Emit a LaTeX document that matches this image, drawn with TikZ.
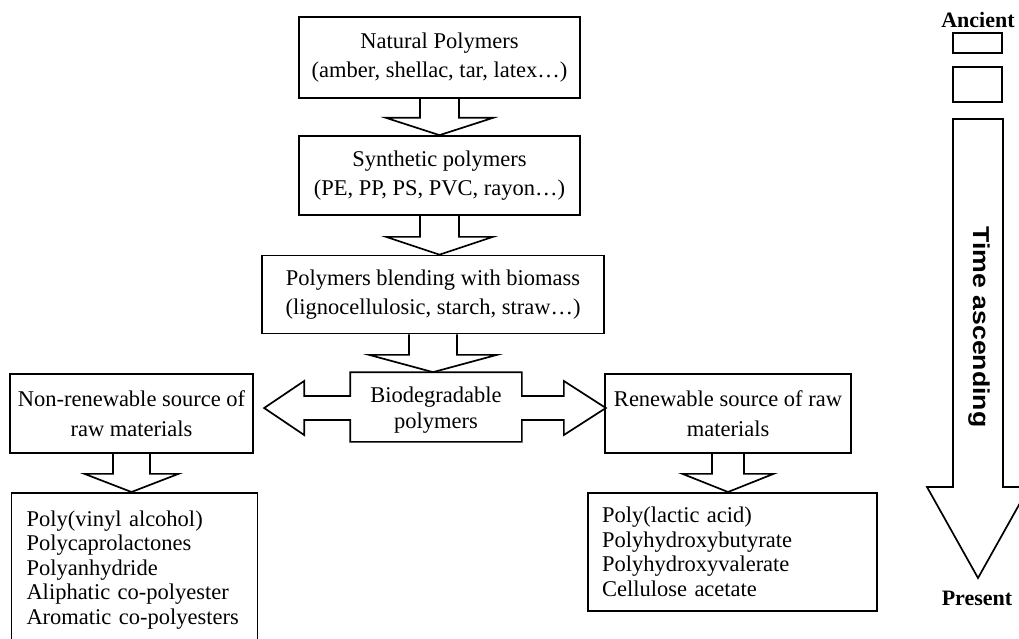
\documentclass[tikz,border=0pt]{standalone}
\usepackage{fontspec}
\setmainfont{Liberation Serif}
\newfontfamily\arialfam{Liberation Sans}
\usetikzlibrary{calc}
\newcommand\blkdown[5]{\draw[blk] ($(#1)+(-#3,0)$) -- ++(0,#5) -- ++(#3-#4,0) -- (#1 |- #2) -- ($(#1)+(#4,#5)$) -- ++(#3-#4,0) -- ++(0,-#5);}
\begin{document}
\begin{tikzpicture}[x=1pt,y=-1pt,line width=1.7pt,
  box/.style={draw, rectangle, inner sep=0pt, align=center, font=\fontsize{22.5}{29.5}\selectfont},
  listbox/.style={draw, rectangle, inner ysep=0pt, inner xsep=14pt, align=left, anchor=north, font=\fontsize{22.5}{24.5}\selectfont},
  blk/.style={draw, line join=miter},
  timelbl/.style={font=\fontsize{22}{24}\selectfont\bfseries}]
\useasboundingbox (0,0) rectangle (1019,639);
\clip (0,0) rectangle (1019,639);

\node[box, minimum width=281pt, minimum height=81pt] (nat) at (439.5,57.5) {Natural Polymers\\(amber, shellac, tar, latex…)};
\node[box, minimum width=281pt, minimum height=79pt] (syn) at (439.5,175.5) {Synthetic polymers\\(PE, PP, PS, PVC, rayon…)};
\node[box, minimum width=342pt, minimum height=78pt] (blend) at (433,294.5) {Polymers blending with biomass\\(lignocellulosic, starch, straw…)};
\node[draw=none, rectangle, inner sep=0pt, minimum width=170pt, minimum height=68pt] (bio) at (436,407) {};
\node[box, draw=none, font=\fontsize{22.5}{26}\selectfont] (biotxt) at ($(bio.center)+(0,3)$) {Biodegradable\\polymers};
\node[box, minimum width=243pt, minimum height=79pt] (nonren) at (131.5,413.5) {Non-renewable source of\\raw materials};
\node[box, minimum width=246pt, minimum height=79pt] (ren) at (728,413.5) {Renewable source of raw\\materials};
\node[listbox, text width=216pt, inner xsep=15pt, minimum height=154pt] (nlist) at (134.5,492) {Poly(vinyl alcohol)\\Polycaprolactones\\Polyanhydride\\Aliphatic co-polyester\\Aromatic co-polyesters};
\node[listbox, text width=261pt, minimum height=118pt] (rlist) at (732.5,492) {Poly(lactic acid)\\Polyhydroxybutyrate\\Polyhydroxyvalerate\\Cellulose acetate};

% block arrows between boxes
\blkdown{nat.south}{syn.north}{19.5}{53.5}{19}
\blkdown{syn.south}{blend.north}{19.5}{53.5}{21}
\blkdown{blend.south}{bio.north}{24}{64}{20.5}
\blkdown{nonren.south}{nlist.north}{18.5}{47}{20}
\blkdown{ren.south}{rlist.north}{16}{45.5}{20}

% biodegradable double arrow outline
\draw[blk] (bio.north west) -- (bio.north east) -- ($(bio.east)+(0,-11)$) -- ++(42,0) -- ++(0,-15)
  -- ($(bio.east)+(84,1)$) -- ($(bio.east)+(42,28)$) -- ++(0,-15) -- ($(bio.east)+(0,13)$)
  -- (bio.south east) -- (bio.south west) -- ($(bio.west)+(0,13)$) -- ++(-46,0) -- ++(0,15)
  -- ($(bio.west)+(-86,1)$) -- ($(bio.west)+(-46,-26)$) -- ++(0,15) -- ($(bio.west)+(0,-11)$) -- cycle;

% time axis
\node[timelbl] (anc) at (978,20) {Ancient};
\node[draw, rectangle, minimum width=49pt, minimum height=20pt, inner sep=0pt] (ta) at (977.5,43) {};
\node[draw, rectangle, minimum width=49pt, minimum height=35pt, inner sep=0pt] (tb) at (977.5,84.5) {};
\node[timelbl] (pres) at (977,598) {Present};
\coordinate (ts) at (978,119);
\coordinate (ttip) at (978,578);
\draw[blk] ($(ts)+(-25,0)$) -- ($(ts)+(25,0)$) -- ($(ts)+(25,368)$) -- ($(ts)+(51,368)$) -- (ttip)
  -- ($(ts)+(-51,368)$) -- ($(ts)+(-25,368)$) -- cycle;
\node[rotate=-90, font=\fontsize{23}{25}\arialfam\bfseries] (tasc) at (979,327) {\scalebox{1.16}[1]{Time ascending}};
\end{tikzpicture}
\end{document}
